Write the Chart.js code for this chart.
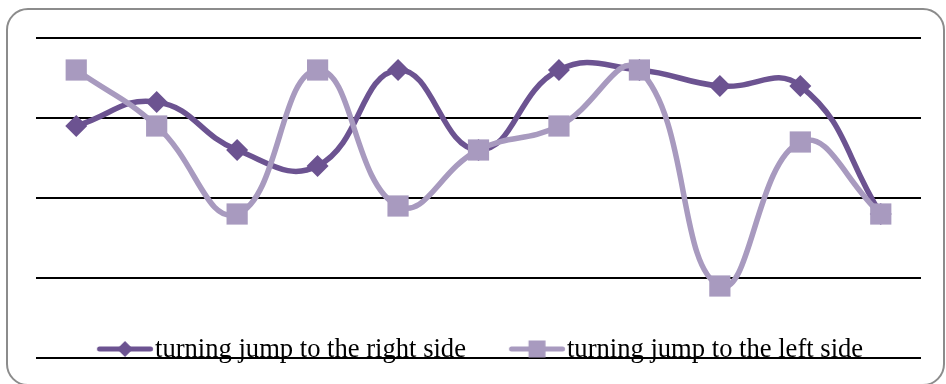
<!DOCTYPE html>
<html>
<head>
<meta charset="utf-8">
<script src="https://cdn.jsdelivr.net/npm/chart.js@4/dist/chart.umd.min.js"></script>
<style>
  html, body { margin: 0; padding: 0; background: #fff; }
  #wrap { position: relative; width: 946px; height: 384px; overflow: hidden; }
  #frame { position: absolute; left: 6px; top: 8px; width: 939px; height: 378px;
           border: 2px solid #8c8c8c; border-radius: 22px; box-sizing: border-box; }
  #myChart { position: absolute; left: 0; top: 0; }
</style>
</head>
<body>
<div id="wrap">
  <div id="frame"></div>
  <canvas id="myChart" width="946" height="384"></canvas>
</div>
<script>
// data (no axis labels shown, scale 0-20)
const categories = ['1', '2', '3', '4', '5', '6', '7', '8', '9', '10', '11'];
const rightSide = [14.5, 16, 13, 12, 18, 13, 18, 18, 17, 17, 9];
const leftSide = [18, 14.5, 9, 18, 9.5, 13, 14.5, 18, 4.5, 13.5, 9];
const seriesNames = ['turning jump to the right side', 'turning jump to the left side'];
const yMin = 0, yMax = 20, yStep = 5;

const darkColor = '#6c5391';
const lightColor = '#a89abf';

// legend sizes
const FONT = 26.6;
const HALF = FONT / 2;
const GAP = 33;      // extra room on the left of each legend item
const SYM = 56;      // length of the legend line
const BOX = GAP + SYM + 2 - HALF;
const IMG_W = Math.round(BOX + 2 * HALF);

// legend symbol: line with the marker in the middle
function legendSymbol(color, shape) {
  const c = document.createElement('canvas');
  c.width = IMG_W;
  c.height = 24;
  const g = c.getContext('2d');
  const imgLeft = BOX / 2 - IMG_W / 2;
  const x0 = GAP - imgLeft;
  const x1 = x0 + SYM;
  g.strokeStyle = color;
  g.lineWidth = 5;
  g.lineCap = 'round';
  g.beginPath();
  g.moveTo(x0 + 2.5, 11);
  g.lineTo(x1 - 2.5, 11);
  g.stroke();
  g.fillStyle = color;
  const cx = (x0 + x1) / 2;
  if (shape === 'diamond') {
    g.beginPath();
    g.moveTo(cx - 8, 11);
    g.lineTo(cx, 3);
    g.lineTo(cx + 8, 11);
    g.lineTo(cx, 19);
    g.closePath();
    g.fill();
  } else {
    g.fillRect(cx - 8.5, 11 - 8.5, 17, 17);
  }
  return c;
}

const symbols = [legendSymbol(darkColor, 'diamond'), legendSymbol(lightColor, 'square')];

// move the legend up so it sits on the bottom gridline
const moveLegend = {
  id: 'moveLegend',
  afterLayout(chart) {
    const lg = chart.legend;
    lg.top = 350 - HALF - 10;
    lg.bottom = 384;
    lg.height = lg.bottom - lg.top;
    lg.left = 54;
  }
};

const ctx = document.getElementById('myChart').getContext('2d');
const myChart = new Chart(ctx, {
  type: 'line',
  data: {
    labels: categories,
    datasets: [
      {
        label: seriesNames[0],
        data: rightSide,
        borderColor: darkColor,
        backgroundColor: darkColor,
        borderWidth: 5.5,
        tension: 0.45,
        pointStyle: 'rectRot',
        pointRadius: 11,
        pointBorderWidth: 0,
        pointBackgroundColor: darkColor,
        order: 1
      },
      {
        label: seriesNames[1],
        data: leftSide,
        borderColor: lightColor,
        backgroundColor: lightColor,
        borderWidth: 5.5,
        tension: 0.45,
        pointStyle: 'rect',
        pointRadius: 15,
        pointBorderWidth: 0,
        pointBackgroundColor: lightColor,
        order: 0
      }
    ]
  },
  options: {
    responsive: false,
    animation: false,
    layout: { padding: { top: 38, left: 36, right: 25, bottom: 0 } },
    scales: {
      x: { display: false, offset: true },
      y: {
        min: yMin,
        max: yMax,
        ticks: { display: false, stepSize: yStep },
        border: { display: false },
        grid: { color: '#000', lineWidth: 2, drawTicks: false }
      }
    },
    plugins: {
      tooltip: { enabled: false },
      legend: {
        position: 'bottom',
        align: 'start',
        maxHeight: 26,
        labels: {
          usePointStyle: true,
          pointStyleWidth: BOX,
          padding: 10,
          color: '#000',
          font: { family: 'Liberation Serif', size: FONT },
          generateLabels: function(chart) {
            return chart.data.datasets.map(function(ds, i) {
              return {
                text: ds.label,
                fillStyle: ds.borderColor,
                strokeStyle: ds.borderColor,
                fontColor: '#000',
                lineWidth: 0,
                pointStyle: symbols[i],
                hidden: false,
                datasetIndex: i
              };
            });
          }
        }
      }
    }
  },
  plugins: [moveLegend]
});
</script>
</body>
</html>
